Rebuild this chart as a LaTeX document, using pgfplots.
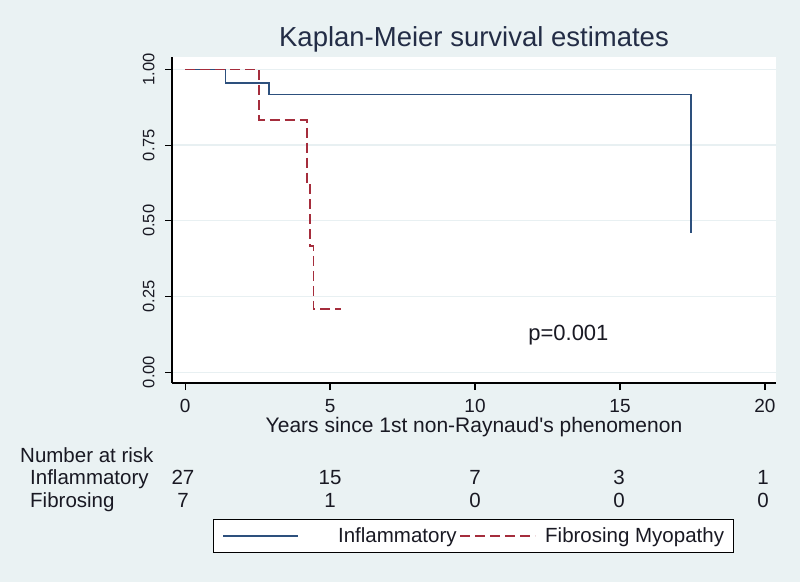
\documentclass[border=0pt]{standalone}
\usepackage{fontspec}
\setmainfont{Liberation Sans}
\usepackage{pgfplots}
\pgfplotsset{compat=1.18}

\definecolor{bg}{RGB}{234,242,243}
\definecolor{navyline}{RGB}{45,80,125}
\definecolor{maroonline}{RGB}{165,45,60}
\definecolor{gridc}{RGB}{232,240,242}
\definecolor{titlec}{RGB}{35,45,70}
\definecolor{txt}{RGB}{25,25,35}

\begin{document}
\begin{tikzpicture}[x=1pt,y=1pt]
\fill[bg] (0,0) rectangle (800,-582);
\useasboundingbox (0,0) rectangle (800,-582);

\begin{axis}[
    at={(172pt,-383pt)}, anchor=south west,
    scale only axis,
    width=604pt, height=326pt,
    xmin=-0.45, xmax=20.38,
    ymin=-0.036, ymax=1.041,
    axis x line*=bottom,
    axis y line*=left,
    axis line style={black, line width=1.1pt},
    axis background/.style={fill=white},
    tick align=outside,
    major tick length=7pt,
    tick style={black, line width=1.1pt},
    xtick={0,5,10,15,20},
    ytick={0,0.25,0.5,0.75,1},
    ymajorgrids=true,
    grid style={gridc, line width=1.2pt},
    xticklabel style={font=\fontsize{19}{20}\selectfont, text=txt, yshift=-6pt},
    yticklabel style={font=\fontsize{16.5}{18}\selectfont, text=txt,
        xshift=-7pt, rotate=90, anchor=south,
        /pgf/number format/.cd, fixed, fixed zerofill, precision=2},
    /pgf/number format/assume math mode=true,
    title={Kaplan-Meier survival estimates},
    title style={font=\fontsize{27.5}{30}\selectfont, text=titlec,
        at={(0.5,1.0)}, anchor=base, yshift=5pt},
    xlabel={Years since 1st non-Raynaud\textquotesingle s phenomenon},
    xlabel style={font=\fontsize{21}{22}\selectfont, text=txt,
        at={(axis description cs:0.5,-0.151)}, anchor=base},
    clip=false,
    legend style={at={(axis description cs:0.0679,-0.417)}, anchor=north west,
        draw=black, line width=1pt, fill=white,
        inner xsep=9pt, inner ysep=8.5pt,
        legend columns=2,
        font=\fontsize{20.5}{22}\selectfont,
        nodes={inner sep=0pt, text=txt},
        /tikz/column 1/.style={column sep=39pt},
        /tikz/column 2/.style={column sep=3pt},
        /tikz/column 3/.style={column sep=9pt}},
    legend image code/.code={\draw[#1] (0pt,0pt) -- (75pt,0pt);},
]
% Inflammatory
\addplot[draw=navyline, line width=1.6pt, const plot] coordinates {
    (0,1) (1.4,0.9545) (2.9,0.9176) (17.45,0.9176) (17.45,0.459)
};
\addlegendentry{Inflammatory}
% Fibrosing Myopathy
\addplot[draw=maroonline, line width=1.6pt, const plot, dash pattern=on 10pt off 5pt] coordinates {
    (0,1) (2.56,0.8333) (4.2,0.625) (4.31,0.4167) (4.43,0.2083) (5.38,0.2083)
};
\addlegendentry{Fibrosing Myopathy}

\node[font=\fontsize{22}{24}\selectfont, text=txt, anchor=base] at (axis cs:13.22,0.104) {p=0.001};
\end{axis}

% number at risk table
\begin{scope}[font=\fontsize{20.5}{22}\selectfont, text=txt]
\node[anchor=base west, inner sep=0pt] at (20,-462) {Number at risk};
\node[anchor=base west, inner sep=0pt] at (30,-484) {Inflammatory};
\node[anchor=base west, inner sep=0pt] at (30,-507) {Fibrosing};
\foreach \xx/\a/\b in {183/27/7, 330/15/1, 475/7/0, 619/3/0, 763/1/0} {
    \node[anchor=base, inner sep=0pt] at (\xx,-484) {\a};
    \node[anchor=base, inner sep=0pt] at (\xx,-507) {\b};
}
\end{scope}
\end{tikzpicture}
\end{document}
